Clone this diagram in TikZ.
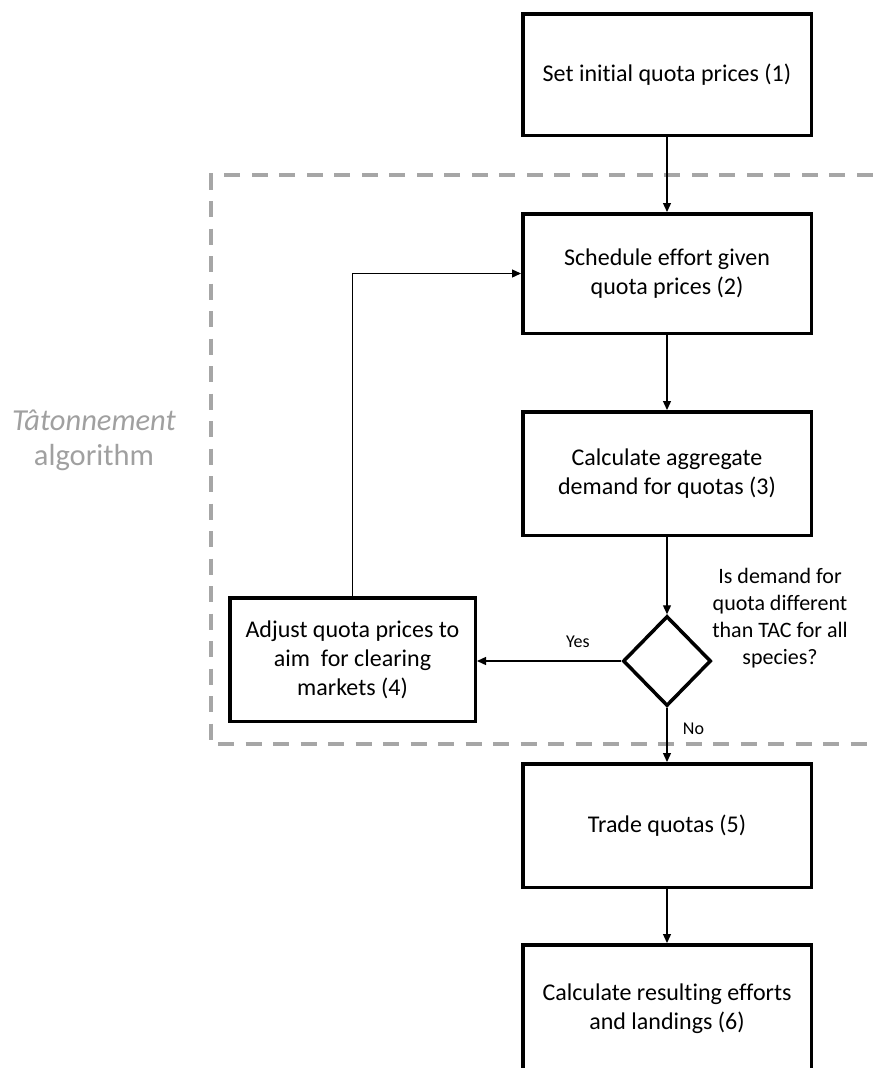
\documentclass[tikz,border=0pt]{standalone}
\usepackage{fontspec}
\setmainfont{Carlito}[Ligatures = NoCommon]
\usetikzlibrary {arrows.meta, shapes.geometric}
\definecolor{frame}{HTML}{A6A6A6}
\definecolor{note}{HTML}{A0A0A0}

\begin{document}
\begin{tikzpicture}[x = 1pt, y = -1pt,
    	box/.style = {draw, line width = 3.5pt, minimum width = 288.5pt, minimum height = 121.5pt, inner sep = 0pt, align = center, font = \fontsize{24}{29}\selectfont},
    	choice/.style = {draw, diamond, line width = 3.5pt, minimum width = 88pt, minimum height = 90pt, inner sep = 0pt},
    	edge/.style = {line width = 1.3pt, arrows = {-Triangle[width = 8pt, length = 9pt]}},
    	lbl/.style = {font = \fontsize{18}{22}\selectfont},
    	region/.style = {draw = frame, line width = 3.5pt, dash pattern = on 16pt off 11.5pt}]
    	\useasboundingbox (0,0) rectangle (873,1068);
    	% dashed frame of the loop
    	\draw[region] (900,175) -- (211,175) -- (211,744) -- (900,744);
    	\node[note, align = center, font = \fontsize{30.5}{35}\selectfont] (algo) at (94,440) {\textit{Tâtonnement}\\algorithm};
    	\node[box] (1) at (667,74.5) {Set initial quota prices (1)};
    	\node[box, minimum height = 119.5pt] (2) at (667,273.5) {Schedule effort given\\quota prices (2)};
    	\node[box, minimum height = 123.5pt] (3) at (667,473.5) {Calculate aggregate\\demand for quotas (3)};
    	\node[choice] (q) at (667,661) {};
    	\node[align = center, font = \fontsize{22}{27}\selectfont] (ask) at (780,618) {Is demand for\\quota different\\than TAC for all\\species?};
    	\node[box, minimum width = 245.5pt, minimum height = 123.5pt] (4) at (352.5,659.5) {Adjust quota prices to\\aim~ for clearing\\markets (4)};
    	\node[box, minimum height = 123.5pt] (5) at (667,825.5) {Trade quotas (5)};
    	\node[box, minimum height = 128pt] (6) at (667,1008.75) {Calculate resulting efforts\\and landings (6)};
    	\draw (1)[edge] -- (2);
    	\draw (2)[edge] -- (3);
    	\draw (3)[edge] -- (q);
    	\draw (q.west)[edge] -- node[lbl, above = 9pt, pos = 0.3] (yes) {Yes} (q.west -| 4.east);
    	\draw (4)[edge] |- (2);
    	\draw (q)[edge] -- node[lbl, right = 12pt, pos = 0.39] (no) {No} (5);
    	\draw (5)[edge] -- (6);
    \end{tikzpicture}
\end{document}
